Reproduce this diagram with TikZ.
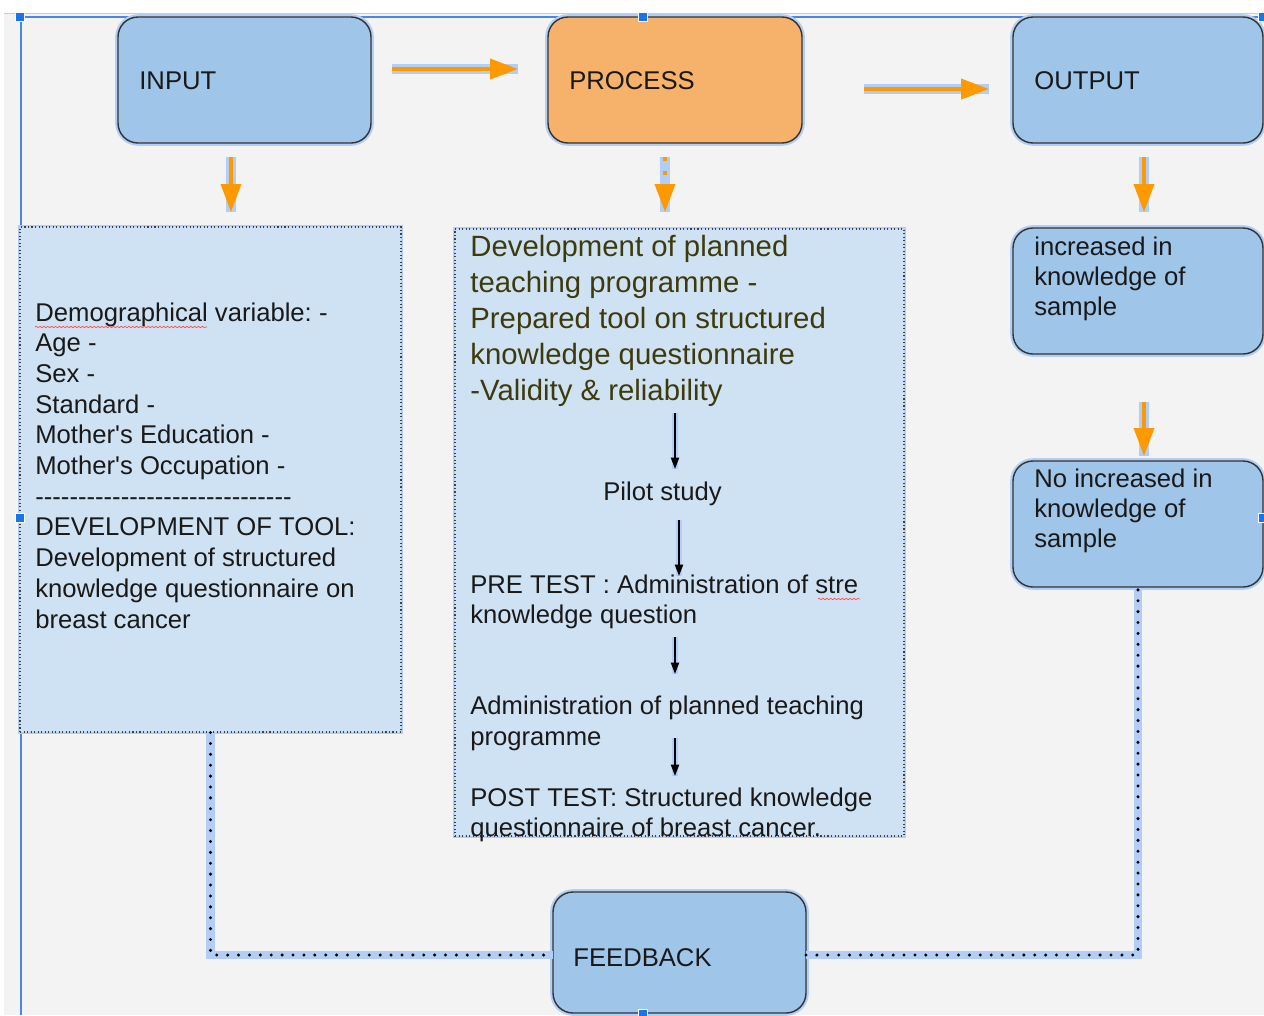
\documentclass[tikz,border=0pt]{standalone}
\usepackage{fontspec}
\newfontfamily\arialf{Liberation Sans}
\usetikzlibrary{arrows.meta,fit,decorations.pathmorphing}
\definecolor{bg}{HTML}{F3F3F3}
\definecolor{boxblue}{HTML}{9FC5E8}
\definecolor{lightbox}{HTML}{CFE2F3}
\definecolor{procorange}{HTML}{F6B26B}
\definecolor{arrorange}{HTML}{FF9900}
\definecolor{glow}{HTML}{B2CDF6}
\definecolor{selblue}{HTML}{4A86E8}
\definecolor{handleblue}{HTML}{1A73E8}
\definecolor{olivetext}{HTML}{3D3A0C}
\frenchspacing
\begin{document}
\begin{tikzpicture}[x=0.02cm,y=-0.02cm,
  roundbox/.style={draw=black!80, line width=0.8pt, fill=boxblue, rounded corners=0.4cm, inner sep=0pt,
    preaction={draw=glow, line width=3.2pt, solid}},
  dotbox/.style={draw=black!75, line width=0.6pt, dash pattern=on 0.6pt off 1.4pt, fill=lightbox, inner sep=0pt,
    preaction={draw=glow, line width=2.5pt, solid}},
  txt/.style={anchor=base west, inner sep=0pt, font=\arialf\fontsize{14.6}{17}\selectfont, text=black!90},
  bigtxt/.style={anchor=base west, inner sep=0pt, font=\arialf\fontsize{16.7}{20}\selectfont, text=olivetext},
  oarrow/.style={draw=arrorange, line width=2.3pt, -{Triangle[length=15.9pt,width=11.3pt]},
    preaction={draw=glow, line width=6.2pt, arrows=-, solid, line cap=butt}},
  barrow/.style={draw=black, line width=1.1pt, -{Triangle[length=6.5pt,width=4.6pt]},
    preaction={draw=glow, line width=3pt, arrows=-, solid}},
  conn/.style={draw=black, line width=1.9pt, line cap=round, dash pattern=on 0pt off 6.2pt,
    preaction={draw=glow, line width=4.8pt, solid, line cap=butt}},
  handle/.style={fill=handleblue, draw=white, line width=0.5pt, minimum size=0.19cm, inner sep=0pt},
  squig/.style={draw=red!70, line width=0.4pt, decorate, decoration={snake, amplitude=0.4pt, segment length=2.2pt}}
]
% canvas
\useasboundingbox (0,0) rectangle (1264,1015);
\fill[white] (0,0) rectangle (1264,1015);
\fill[bg] (4,13) rectangle (1264,1015);
\draw[gray!40, line width=0.5pt] (4,13) -- (1264,13);
\draw[selblue, line width=1pt] (20,17) -- (1264,17);
\draw[selblue, line width=1pt] (21,17) -- (21,1015);

% top row boxes
\node[roundbox, fit={(118,17) (371,143)}] (input) {};
\node[roundbox, fill=procorange, fit={(548,17) (802,143)}] (process) {};
\node[roundbox, fit={(1013,17) (1263,143)}] (output) {};
\node[txt] (inputlbl) at (139,89) {INPUT};
\node[txt] (processlbl) at (569,89) {PROCESS};
\node[txt] (outputlbl) at (1034,89) {OUTPUT};

% horizontal orange arrows
\coordinate (a1s) at (392,69); \coordinate (a1e) at (518,69);
\coordinate (a2s) at (864,89); \coordinate (a2e) at (989,89);
\draw[oarrow] (a1s) -- (a1e);
\draw[oarrow] (a2s) -- (a2e);

% second row boxes
\node[dotbox, fit={(20,227) (401,732)}] (inbox) {};
\node[dotbox, fit={(455,229) (904,836)}] (procbox) {};
\node[roundbox, fit={(1013,228) (1263,354)}] (inc) {};
\node[roundbox, fit={(1013,461) (1263,587)}] (noinc) {};

% vertical orange arrows
\coordinate (d1s) at (231,157); \coordinate (d1e) at (231,212);
\coordinate (d2s) at (665,157); \coordinate (d2e) at (665,212);
\coordinate (d3s) at (1144,157); \coordinate (d3e) at (1144,212);
\coordinate (d4s) at (1144,402); \coordinate (d4e) at (1144,456);
\draw[oarrow] (d1s) -- (d1e);
\draw[oarrow, dash pattern=on 2.2pt off 6pt] (d2s) -- (d2e);
\draw[oarrow] (d3s) -- (d3e);
\draw[oarrow] (d4s) -- (d4e);

% left box text
\foreach \t [count=\i] in {Demographical variable: -, Age -, Sex -, Standard -, Mother's Education -,
  Mother's Occupation -, {------------------------------}, DEVELOPMENT OF TOOL:, Development of structured,
  knowledge questionnaire on, breast cancer}
  \node[txt] (left\i) at (35,{321+30.7*(\i-1)}) {\t};
\draw[squig] (35,327) -- (207,327);

% middle box text
\foreach \t [count=\i] in {Development of planned, teaching programme -, Prepared tool on structured,
  knowledge questionnaire, -Validity \& reliability}
  \node[bigtxt] (mid\i) at (470,{256+36*(\i-1)}) {\t};
\node[txt] (pilot) at (603,500) {Pilot study};
\node[txt] (pre1) at (470,593) {PRE TEST : Administration of stre};
\node[txt] (pre2) at (470,623) {knowledge question};
\draw[squig] (818,599) -- (860,599);
\node[txt] (adm1) at (470,714) {Administration of planned teaching};
\node[txt] (adm2) at (470,745) {programme};
\node[txt] (post1) at (470,806) {POST TEST: Structured knowledge};
\node[txt] (post2) at (470,836) {questionnaire of breast cancer.};

% black arrows in middle box
\coordinate (b1s) at (675,413); \coordinate (b1e) at (675,469);
\coordinate (b2s) at (679,520); \coordinate (b2e) at (679,576);
\coordinate (b3s) at (675,637); \coordinate (b3e) at (675,674);
\coordinate (b4s) at (675,738); \coordinate (b4e) at (675,776);
\draw[barrow] (b1s) -- (b1e);
\draw[barrow] (b2s) -- (b2e);
\draw[barrow] (b3s) -- (b3e);
\draw[barrow] (b4s) -- (b4e);

% right box text
\node[txt] (inc1) at (1034,255) {increased in};
\node[txt] (inc2) at (1034,285) {knowledge of};
\node[txt] (inc3) at (1034,315) {sample};
\node[txt] (no1) at (1034,487) {No increased in};
\node[txt] (no2) at (1034,517) {knowledge of};
\node[txt] (no3) at (1034,547) {sample};

% feedback
\node[roundbox, fit={(553,892) (806,1013)}] (feedback) {};
\node[txt] (feedbacklbl) at (573,966) {FEEDBACK};

% dotted feedback connectors
\coordinate (fbw) at (553,955);
\coordinate (fbe) at (806,955);
\draw[conn] (inbox.south) |- (fbw);
\draw[conn] (fbe) -| (noinc.south);

% selection handles
\node[handle] (h1) at (20,17) {};
\node[handle] (h2) at (643,17) {};
\node[handle] (h3) at (20,518) {};
\node[handle] (h4) at (1263,518) {};
\node[handle] (h5) at (643,1014) {};
\node[handle] (h6) at (1263,17) {};
\end{tikzpicture}
\end{document}
